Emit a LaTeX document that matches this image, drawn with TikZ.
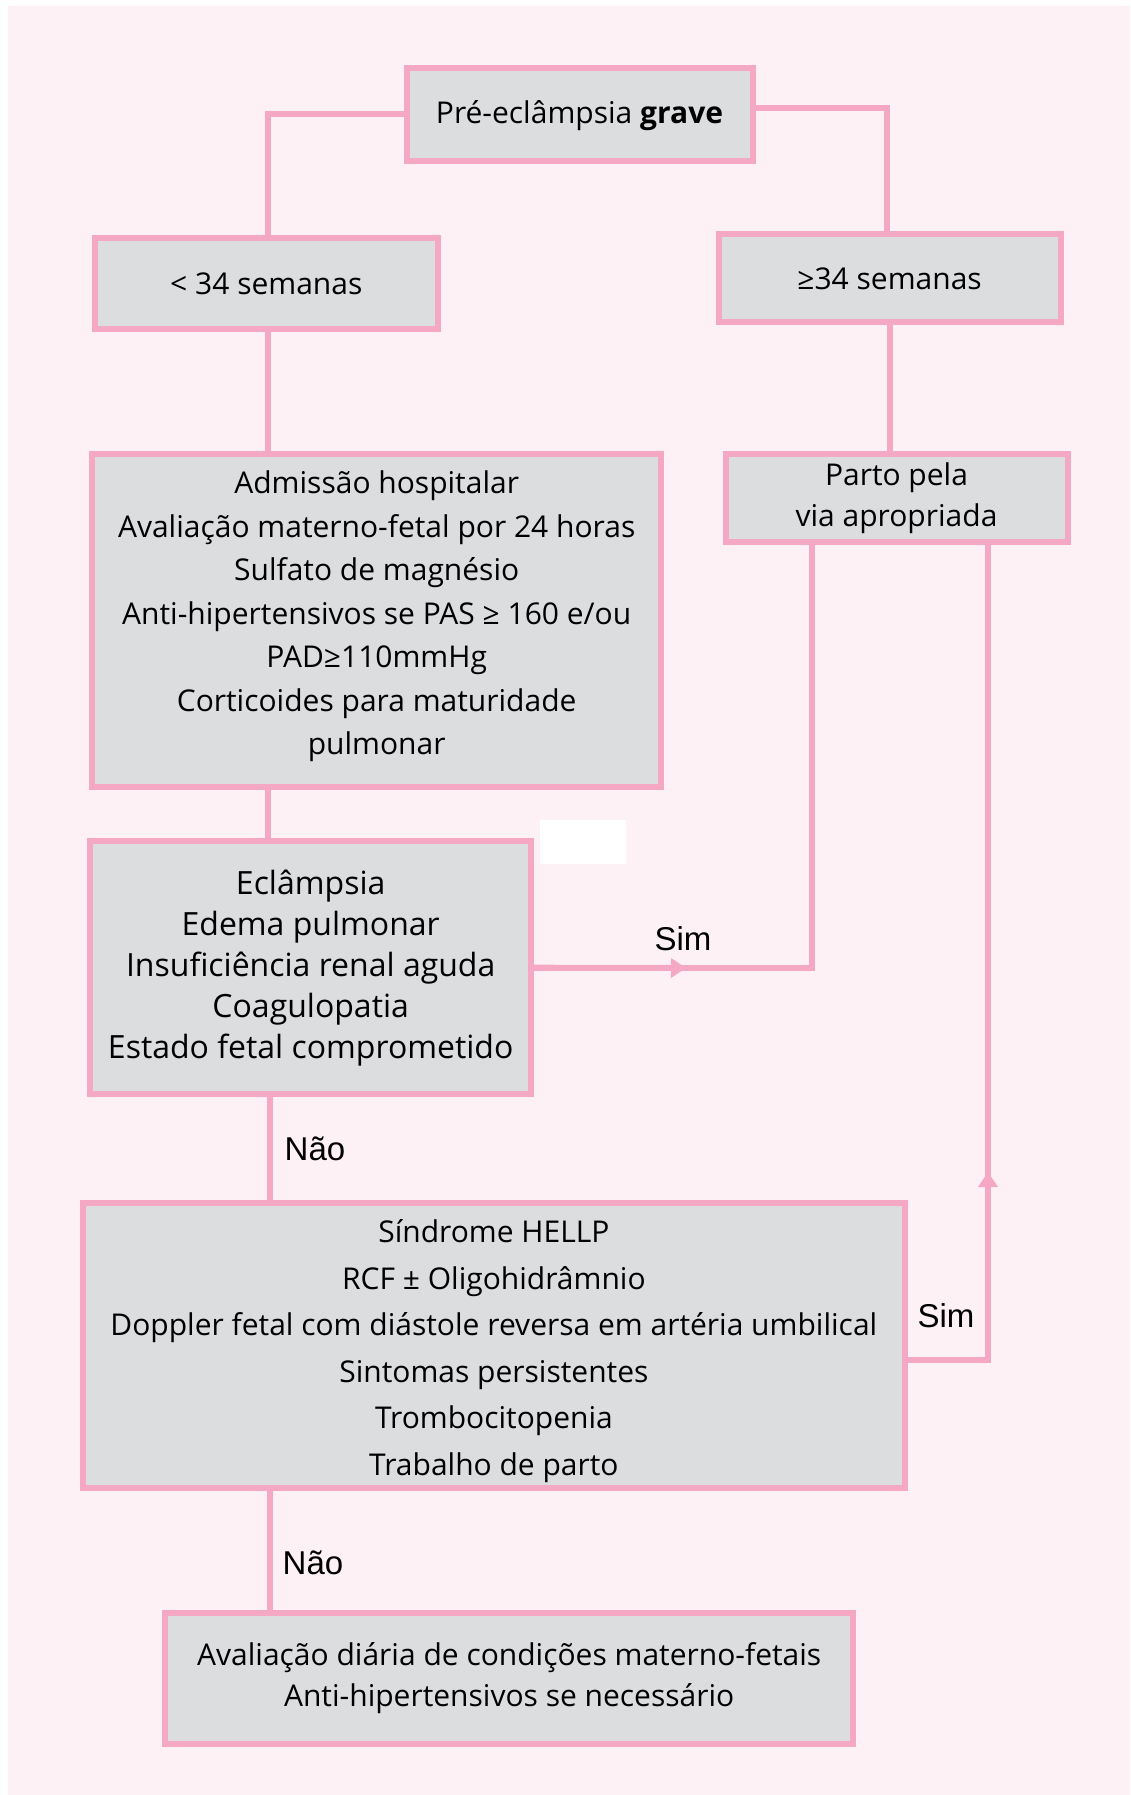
\documentclass[tikz,border=0pt]{standalone}
\usepackage{fontspec}
\setmainfont{Open Sans}
\newfontfamily\labelfont{Liberation Sans}
\usetikzlibrary{arrows.meta}

\definecolor{pinkline}{RGB}{244,168,196}
\definecolor{pinkbg}{RGB}{253,241,245}
\definecolor{boxgray}{RGB}{220,221,223}

\begin{document}
\begin{tikzpicture}[x=1pt,y=-1pt,>={Triangle[length=15pt,width=19pt]}]
\tikzstyle{box}=[rectangle,draw=pinkline,line width=6pt,fill=boxgray,inner sep=0pt,align=center,font=\fontsize{30}{41}\selectfont]
\tikzstyle{link}=[draw=pinkline,line width=6pt]
\tikzstyle{lbl}=[anchor=base,inner sep=0pt,font=\labelfont\fontsize{33}{40}\selectfont]

\useasboundingbox (0,0) rectangle (1130,1795);
\fill[pinkbg] (8,6) rectangle (1130,1795);
\fill[white] (540,820) rectangle (626,864);

% boxes
\node[box,minimum width=346pt,minimum height=93pt](pre) at (579.5,114.3) {\rule{0pt}{26pt}Pré-eclâmpsia \textbf{grave}};
\node[box,minimum width=343pt,minimum height=91pt](lt34) at (266.3,283.5) {< 34 semanas};
\node[box,minimum width=342pt,minimum height=88pt](ge34) at (889.6,278.3) {≥34 semanas};
\node[box,minimum width=569pt,minimum height=333pt,font=\fontsize{30}{43.5}\selectfont](adm) at (376.7,620.5) {Admissão hospitalar\\Avaliação materno-fetal por 24 horas\\Sulfato de magnésio\\Anti-hipertensivos se PAS ≥ 160 e/ou\\PAD≥110mmHg\\Corticoides para maturidade\\pulmonar\rule[-15pt]{0pt}{1pt}};
\node[box,minimum width=342pt,minimum height=88pt](parto) at (896.5,498) {Parto pela\\via apropriada};
\node[box,minimum width=441pt,minimum height=253pt,font=\fontsize{32}{41}\selectfont](ecl) at (310.7,967.7) {Eclâmpsia\\Edema pulmonar\\Insuficiência renal aguda\\Coagulopatia\\Estado fetal comprometido};
\node[box,minimum width=822pt,minimum height=285pt,font=\fontsize{30}{46.5}\selectfont](hellp) at (493.9,1345.3) {\rule{0pt}{35pt}Síndrome HELLP\\RCF ± Oligohidrâmnio\\Doppler fetal com diástole reversa em artéria umbilical\\Sintomas persistentes\\Trombocitopenia\\Trabalho de parto};
\node[box,minimum width=688pt,minimum height=131pt](fim) at (509.2,1678.4) {Avaliação diária de condições materno-fetais\\Anti-hipertensivos se necessário};

% labels
\node[lbl](simA) at (683,950) {Sim};
\node[lbl](simB) at (946,1327) {Sim};
\node[lbl](naoA) at (315,1160) {Não};
\node[lbl](naoB) at (313,1574) {Não};

\coordinate (spineA) at (268,0);
\coordinate (spineB) at (270,0);
\coordinate (dropL) at (812,0);
\coordinate (dropR) at (988,0);
\coordinate (tipA) at (686,968);
\coordinate (tipB) at (988,1172);

% connectors
\draw[link] (pre.west) -| (lt34.north -| spineA);
\draw[link] ([yshift=6pt]pre.east) -| ([xshift=-2.6pt]ge34.north);
\draw[link] (lt34.south -| spineA) -- (adm.north -| spineA);
\draw[link] (ge34.south) -- (parto.north -| ge34.south);
\draw[link] (adm.south -| spineA) -- (ecl.north -| spineA);
\draw[link] (ecl.south -| spineB) -- (hellp.north -| spineB);
\draw[link] (hellp.south -| spineB) -- (fim.north -| spineB);
\draw[link] (ecl.east) -| (parto.south -| dropL);
\draw[link,->,pinkline] (ecl.east) -- (tipA);
\draw[link] ([yshift=-15pt]hellp.east) -| (parto.south -| dropR);
\draw[link,->,pinkline] ([yshift=-15pt]hellp.east -| dropR) -- (tipB);
\end{tikzpicture}
\end{document}
